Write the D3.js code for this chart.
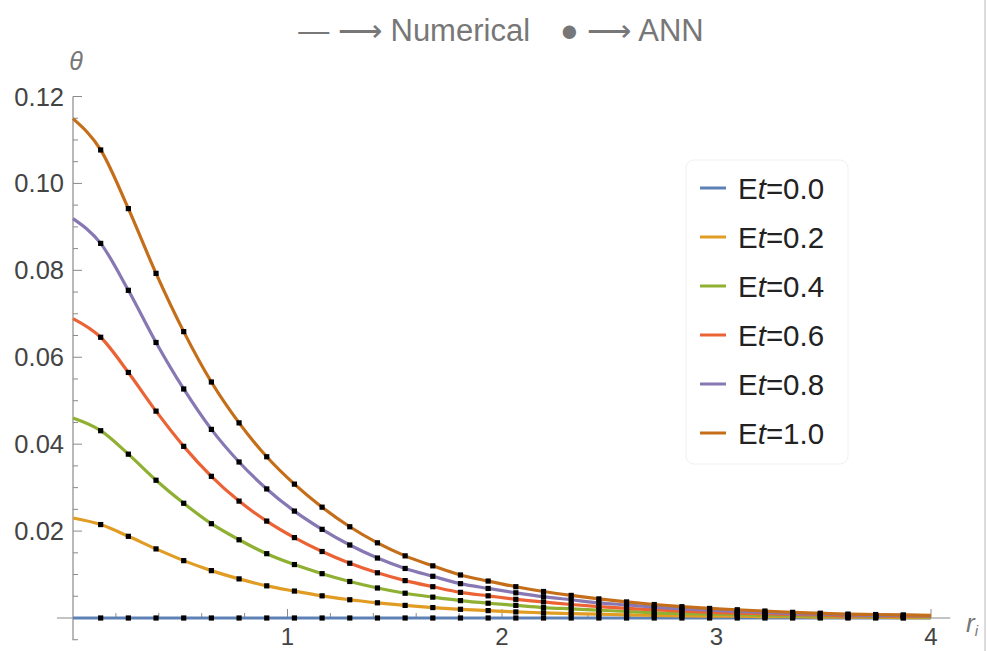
<!DOCTYPE html>
<html>
<head>
<meta charset="utf-8">
<script src="https://cdn.jsdelivr.net/npm/d3@7"></script>
<style>
  body { margin: 0; background: #fff; }
  svg text { font-family: "Liberation Sans", Arial, sans-serif; }
</style>
</head>
<body>
<svg id="chart" width="987" height="651"></svg>
<script>
// radial positions: 32 samples, 0..4 step 4/31
var rValues = d3.range(32).map(function(k) { return k * 4 / 31; });

var seriesNames = ["Et=0.0", "Et=0.2", "Et=0.4", "Et=0.6", "Et=0.8", "Et=1.0"];
var seriesColors = ["#5e81b5", "#e19c24", "#8fb032", "#eb6235", "#8778b3", "#c56e1a"];

var theta00 = [0,0,0,0,0,0,0,0,0,0,0,0,0,0,0,0,0,0,0,0,0,0,0,0,0,0,0,0,0,0,0,0];
var theta02 = [0.0230, 0.0215, 0.0188, 0.0159, 0.0132, 0.0109, 0.0090, 0.0074, 0.0062, 0.0051, 0.0042, 0.0035, 0.0029, 0.0024, 0.0020, 0.0017,
               0.0014, 0.0012, 0.0010, 0.0009, 0.0007, 0.0006, 0.0005, 0.0004, 0.0004, 0.0003, 0.0003, 0.0002, 0.0002, 0.0002, 0.0001, 0.0001];
var theta04 = [0.0460, 0.0431, 0.0377, 0.0317, 0.0264, 0.0217, 0.0180, 0.0148, 0.0123, 0.0102, 0.0084, 0.0069, 0.0057, 0.0048, 0.0040, 0.0034,
               0.0029, 0.0024, 0.0021, 0.0018, 0.0015, 0.0012, 0.0010, 0.0009, 0.0008, 0.0006, 0.0005, 0.0004, 0.0004, 0.0003, 0.0003, 0.0002];
var theta06 = [0.0689, 0.0646, 0.0565, 0.0476, 0.0395, 0.0326, 0.0269, 0.0223, 0.0185, 0.0153, 0.0126, 0.0104, 0.0086, 0.0072, 0.0059, 0.0051,
               0.0043, 0.0037, 0.0031, 0.0026, 0.0022, 0.0019, 0.0016, 0.0013, 0.0011, 0.0010, 0.0008, 0.0007, 0.0005, 0.0005, 0.0004, 0.0004];
var theta08 = [0.0919, 0.0862, 0.0754, 0.0634, 0.0527, 0.0434, 0.0359, 0.0297, 0.0246, 0.0204, 0.0168, 0.0138, 0.0114, 0.0096, 0.0079, 0.0068,
               0.0058, 0.0049, 0.0042, 0.0035, 0.0030, 0.0025, 0.0021, 0.0018, 0.0015, 0.0013, 0.0010, 0.0009, 0.0007, 0.0006, 0.0006, 0.0005];
var theta10 = [0.1149, 0.1077, 0.0942, 0.0793, 0.0659, 0.0543, 0.0449, 0.0371, 0.0308, 0.0255, 0.0210, 0.0173, 0.0143, 0.0120, 0.0099, 0.0085,
               0.0072, 0.0061, 0.0052, 0.0044, 0.0037, 0.0031, 0.0026, 0.0022, 0.0019, 0.0016, 0.0013, 0.0011, 0.0009, 0.0008, 0.0007, 0.0006];

var allSeries = [theta00, theta02, theta04, theta06, theta08, theta10];

var xTicks = [1, 2, 3, 4];
var yTicks = [0.02, 0.04, 0.06, 0.08, 0.10, 0.12];

var svg = d3.select("#chart");

// scales (x: r, y: theta)
var x = d3.scaleLinear().domain([0, 4]).range([73, 931]);
var y = d3.scaleLinear().domain([0, 0.12]).range([618, 96.5]);

var axisColor = "#8a8a8a";
var labelColor = "#444";

// x axis line and ticks
svg.append("line")
    .attr("x1", x(-0.075)).attr("x2", x(4.09))
    .attr("y1", y(0)).attr("y2", y(0))
    .attr("stroke", axisColor).attr("stroke-width", 1.2);

svg.append("g").selectAll("line")
    .data(d3.range(1, 21).map(function(i) { return i * 0.2; }))
    .enter().append("line")
    .attr("x1", function(d) { return x(d); })
    .attr("x2", function(d) { return x(d); })
    .attr("y1", y(0))
    .attr("y2", function(d, i) { return y(0) - ((i + 1) % 5 === 0 ? 9 : 5); })
    .attr("stroke", axisColor).attr("stroke-width", 1);

svg.append("g").selectAll("text")
    .data(xTicks)
    .enter().append("text")
    .attr("x", function(d) { return x(d); })
    .attr("y", 645)
    .attr("text-anchor", "middle")
    .attr("font-size", 24)
    .attr("fill", labelColor)
    .text(function(d) { return d; });

// y axis line and ticks
svg.append("line")
    .attr("x1", x(0)).attr("x2", x(0))
    .attr("y1", y(0.12)).attr("y2", y(-0.0051))
    .attr("stroke", axisColor).attr("stroke-width", 1.2);

svg.append("g").selectAll("line")
    .data(d3.range(-1, 25).map(function(i) { return i * 0.005; }))
    .enter().append("line")
    .attr("x1", x(0))
    .attr("x2", function(d, i) { return x(0) + ((i - 1) % 4 === 0 && i > 1 ? 9 : 5); })
    .attr("y1", function(d) { return y(d); })
    .attr("y2", function(d) { return y(d); })
    .attr("stroke", axisColor).attr("stroke-width", 1);

svg.append("g").selectAll("text")
    .data(yTicks)
    .enter().append("text")
    .attr("x", 64)
    .attr("y", function(d) { return y(d) + 9; })
    .attr("text-anchor", "end")
    .attr("font-size", 25.5)
    .attr("fill", labelColor)
    .text(function(d) { return d.toFixed(2); });

// axis labels
svg.append("text")
    .attr("x", 76).attr("y", 70)
    .attr("text-anchor", "middle")
    .attr("font-size", 25).attr("font-style", "italic")
    .attr("fill", "#777")
    .text("θ");

var rLabel = svg.append("text")
    .attr("x", 966).attr("y", 632)
    .attr("font-size", 26).attr("font-style", "italic")
    .attr("fill", "#777");
rLabel.append("tspan").text("r");
rLabel.append("tspan").attr("font-size", 15).attr("dy", 4).text("i");

// right border of the cropped figure
svg.append("line")
    .attr("x1", 985).attr("x2", 985).attr("y1", 0).attr("y2", 651)
    .attr("stroke", "#d0d0d0").attr("stroke-width", 1.5);

// curves
var line = d3.line()
    .x(function(d, i) { return x(rValues[i]); })
    .y(function(d) { return y(d); })
    .curve(d3.curveMonotoneX);

svg.append("g").selectAll("path")
    .data(allSeries)
    .enter().append("path")
    .attr("d", line)
    .attr("fill", "none")
    .attr("stroke", function(d, i) { return seriesColors[i]; })
    .attr("stroke-width", 3.2);

// ANN points (k = 1..30)
var dots = [];
allSeries.forEach(function(s) {
    s.forEach(function(v, k) {
        if (k >= 1 && k <= 30) dots.push({r: rValues[k], v: v});
    });
});

svg.append("g").selectAll("rect")
    .data(dots)
    .enter().append("rect")
    .attr("x", function(d) { return x(d.r) - 2.6; })
    .attr("y", function(d) { return y(d.v) - 2.6; })
    .attr("width", 5.2).attr("height", 5.2)
    .attr("fill", "#000");

// legend
var legend = svg.append("g");
legend.append("rect")
    .attr("x", 686).attr("y", 160)
    .attr("width", 162).attr("height", 304)
    .attr("rx", 8)
    .attr("fill", "#fff")
    .attr("stroke", "#f0f0f0");

var rows = legend.selectAll("g.row")
    .data(seriesNames)
    .enter().append("g")
    .attr("class", "row")
    .attr("transform", function(d, i) { return "translate(0," + (188 + i * 49) + ")"; });

rows.append("line")
    .attr("x1", 700).attr("x2", 726)
    .attr("stroke", function(d, i) { return seriesColors[i]; })
    .attr("stroke-width", 3);

var rowText = rows.append("text")
    .attr("x", 738).attr("y", 11)
    .attr("font-size", 29.5)
    .attr("fill", "#222");
rowText.append("tspan").text("E");
rowText.append("tspan").attr("font-style", "italic").text("t");
rowText.append("tspan").text(function(d) { return d.slice(2); });

// header: line -> Numerical, point -> ANN
var header = svg.append("text")
    .attr("x", 501).attr("y", 41)
    .attr("text-anchor", "middle")
    .attr("font-size", 31)
    .attr("fill", "#777");
header.append("tspan").text("— ⟶ Numerical");
header.append("tspan").attr("dx", 30).text("● ⟶ ANN");
</script>
</body>
</html>
